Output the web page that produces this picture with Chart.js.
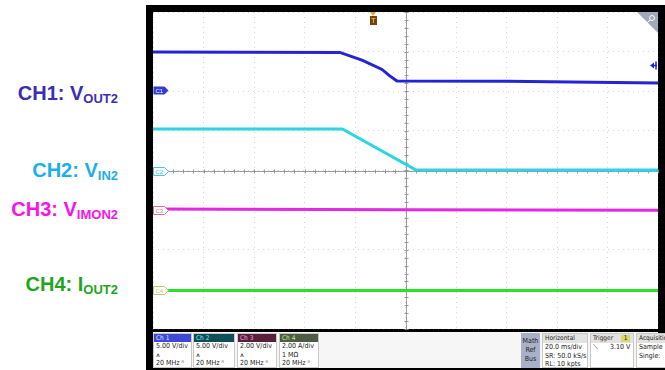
<!DOCTYPE html>
<html>
<head>
<meta charset="utf-8">
<script src="https://cdn.jsdelivr.net/npm/chart.js@4/dist/chart.umd.min.js"></script>
<style>
  html, body { margin: 0; padding: 0; background: #fff; width: 665px; height: 370px; overflow: hidden; }
  .lbl { position: absolute; right: 547px; font: bold 20px "Liberation Sans", Arial, sans-serif; line-height: 20px; white-space: nowrap; }
  .lbl sub { font-size: 13px; vertical-align: -3px; line-height: 0; }
  #scope { position: absolute; left: 146px; top: 5px; width: 519px; height: 365px; background: #000; overflow: hidden; }
  #plot { position: absolute; left: 0; top: 0; }
  #status { position: absolute; left: 7px; top: 327px; width: 505px; height: 36px; background: #f6f6f6;
            font: 7px "Liberation Sans Narrow", "DejaVu Sans Condensed", Arial, sans-serif; color: #222; }
  .box { position: absolute; top: 1px; height: 35px; background: #fff; border: 1px solid #c8c8c8; box-sizing: border-box; overflow: hidden; }
  .hd { height: 8px; line-height: 8px; padding-left: 2px; font-size: 6.5px; }
  .row { height: 8.5px; line-height: 8.5px; padding-left: 2px; white-space: nowrap; }
</style>
</head>
<body>
<div class="lbl" style="top:83px;color:#3b2db4">CH1: V<sub>OUT2</sub></div>
<div class="lbl" style="top:160px;color:#1eaee8">CH2: V<sub>IN2</sub></div>
<div class="lbl" style="top:199px;color:#f514ec">CH3: V<sub>IMON2</sub></div>
<div class="lbl" style="top:274px;color:#22a51e">CH4: I<sub>OUT2</sub></div>

<div id="scope">
  <canvas id="plot" width="519" height="327"></canvas>
  <div id="status">
    <div class="box" style="left:0;width:39px"><div class="hd" style="background:#3d48d6;color:#dfe3ff">Ch 1</div>
      <div class="row">5.00 V/div</div><div class="row">⩚</div><div class="row">20 MHz ⁿ</div></div>
    <div class="box" style="left:40px;width:42px"><div class="hd" style="background:#0f4d58;color:#7fe6f0">Ch 2</div>
      <div class="row">5.00 V/div</div><div class="row">⩚</div><div class="row">20 MHz ⁿ</div></div>
    <div class="box" style="left:84px;width:40px"><div class="hd" style="background:#5a1f39;color:#f0a0e0">Ch 3</div>
      <div class="row">2.00 V/div</div><div class="row">⩚</div><div class="row">20 MHz ⁿ</div></div>
    <div class="box" style="left:126px;width:40px"><div class="hd" style="background:#4e5c44;color:#c8e890">Ch 4</div>
      <div class="row">2.00 A/div</div><div class="row">1 MΩ</div><div class="row">20 MHz ⁿ</div></div>

    <div class="box" style="left:368px;width:19px;background:#a9b1c9;border-color:#a9b1c9;text-align:center;padding-top:3px">
      <div style="line-height:9px">Math<br>Ref<br>Bus</div></div>
    <div class="box" style="left:389px;width:46px"><div class="hd" style="background:#e2e2e2;height:9px">Horizontal</div>
      <div class="row">20.0 ms/div</div><div class="row">SR: 50.0 kS/s</div><div class="row">RL: 10 kpts</div></div>
    <div class="box" style="left:437px;width:44px"><div class="hd" style="background:#e2e2e2;height:9px">Trigger
      <span style="position:absolute;left:30px;top:1px;width:9px;height:7px;background:#d9d86a;text-align:center;line-height:7px">1</span></div>
      <div class="row">⟍&nbsp;&nbsp;&nbsp;&nbsp;&nbsp;&nbsp;3.10 V</div></div>
    <div class="box" style="left:483px;width:30px"><div class="hd" style="background:#e2e2e2;height:9px">Acquisition</div>
      <div class="row">Sample</div><div class="row">Single:</div></div>
  </div>
</div>

<script>
// Graticule: 10 horizontal divisions at 20 ms/div, 8 vertical divisions.
// Trace values are in screen divisions, centre line = 0.
const timeCh1 = [-100, -26, -17, -9.3, -6.5, -3.4, 40, 100];
const ch1Div  = [2.99, 2.98, 2.78, 2.55, 2.40, 2.26, 2.25, 2.21];

const timeCh2 = [-100, -25, 4, 100];
const ch2Div  = [1.05, 1.05, 0.02, 0.01];

const timeCh3 = [-100, 0, 100];
const ch3Div  = [-0.97, -0.99, -1.0];

const timeCh4 = [-100, 100];
const ch4Div  = [-3.03, -3.03];

// Channel ground markers (divisions) and labels
const refNames  = ['C1', 'C2', 'C3', 'C4'];
const refLevels = [2.03, 0, -1.0, -3.02];
const traceColors = ['rgb(36,36,214)', 'rgb(44,212,230)', 'rgb(226,40,226)', 'rgb(40,226,40)'];
const tagStroke   = ['rgb(50,60,220)', 'rgb(60,200,230)', 'rgb(220,110,150)', 'rgb(190,200,110)'];

const triggerTime  = -12.9;  // ms
const triggerLevel = 2.65;   // divisions on CH1 (3.10 V)

const toPts = (xs, ys) => xs.map((x, i) => ({ x, y: ys[i] }));

const scopeFrame = {
  id: 'scopeFrame',
  beforeDraw(chart) {
    const { ctx, chartArea: a } = chart;
    ctx.save();
    ctx.fillStyle = '#000';
    ctx.fillRect(0, 0, chart.width, chart.height);
    ctx.fillStyle = '#fff';
    ctx.fillRect(a.left, a.top, a.right - a.left, a.bottom - a.top);
    ctx.restore();
  },
  beforeDatasetsDraw(chart) {
    // centre crosshair with minor ticks
    const { ctx, chartArea: a, scales: { x, y } } = chart;
    const cx = Math.round(x.getPixelForValue(0)) + 0.5;
    const cy = Math.round(y.getPixelForValue(0)) + 0.5;
    ctx.save();
    ctx.strokeStyle = 'rgba(140,140,140,0.85)';
    ctx.lineWidth = 1;
    ctx.beginPath();
    ctx.moveTo(a.left, cy); ctx.lineTo(a.right, cy);
    ctx.moveTo(cx, a.top); ctx.lineTo(cx, a.bottom);
    for (let t = -100; t <= 100; t += 4) {
      const px = Math.round(x.getPixelForValue(t)) + 0.5;
      ctx.moveTo(px, cy - 2); ctx.lineTo(px, cy + 2);
    }
    for (let d = -4; d <= 4.001; d += 0.2) {
      const py = Math.round(y.getPixelForValue(d)) + 0.5;
      ctx.moveTo(cx - 2, py); ctx.lineTo(cx + 2, py);
    }
    ctx.stroke();
    ctx.restore();
  },
  afterDatasetsDraw(chart) {
    const { ctx, chartArea: a, scales: { x, y } } = chart;
    ctx.save();
    // channel tags at the left edge
    ctx.font = '6px "Liberation Sans", Arial, sans-serif';
    ctx.textBaseline = 'middle';
    refLevels.forEach((lv, i) => {
      const py = Math.round(y.getPixelForValue(lv)) + 0.5;
      const l = a.left + 0.5, w = 11, h = 8;
      ctx.beginPath();
      ctx.moveTo(l, py - h / 2);
      ctx.lineTo(l + w, py - h / 2);
      ctx.lineTo(l + w + 4, py);
      ctx.lineTo(l + w, py + h / 2);
      ctx.lineTo(l, py + h / 2);
      ctx.closePath();
      if (i === 0) {
        ctx.fillStyle = tagStroke[0]; ctx.fill();
        ctx.fillStyle = '#fff';
      } else {
        ctx.fillStyle = '#fff'; ctx.fill();
        ctx.strokeStyle = tagStroke[i]; ctx.lineWidth = 1; ctx.stroke();
        ctx.fillStyle = tagStroke[i];
      }
      ctx.fillText(refNames[i], l + 2, py + 0.5);
    });

    // trigger position marker at the top
    const tx = Math.round(x.getPixelForValue(triggerTime));
    ctx.fillStyle = '#e8a020';
    ctx.beginPath();
    ctx.moveTo(tx - 3, a.top); ctx.lineTo(tx + 3, a.top); ctx.lineTo(tx, a.top + 4); ctx.closePath();
    ctx.fill();
    ctx.fillStyle = '#6e4410';
    ctx.fillRect(tx - 3, a.top + 4, 7, 9);
    ctx.fillStyle = '#f0b040';
    ctx.font = 'bold 7px "Liberation Sans", Arial, sans-serif';
    ctx.textAlign = 'center';
    ctx.fillText('T', tx + 0.5, a.top + 9);

    // trigger level arrow on the right edge
    const ty = Math.round(y.getPixelForValue(triggerLevel)) + 0.5;
    ctx.strokeStyle = traceColors[0];
    ctx.fillStyle = traceColors[0];
    ctx.lineWidth = 1.5;
    ctx.beginPath(); ctx.moveTo(a.right - 6, ty); ctx.lineTo(a.right - 1, ty); ctx.stroke();
    ctx.beginPath(); ctx.moveTo(a.right - 8, ty); ctx.lineTo(a.right - 4, ty - 3); ctx.lineTo(a.right - 4, ty + 3); ctx.closePath(); ctx.fill();
    ctx.beginPath(); ctx.moveTo(a.right - 2, ty - 4); ctx.lineTo(a.right - 2, ty + 4); ctx.stroke();

    // zoom corner
    ctx.fillStyle = '#a2a9b8';
    ctx.beginPath();
    ctx.moveTo(a.right - 21, a.top); ctx.lineTo(a.right, a.top); ctx.lineTo(a.right, a.top + 21); ctx.closePath();
    ctx.fill();
    ctx.strokeStyle = '#fff'; ctx.lineWidth = 1;
    ctx.beginPath(); ctx.arc(a.right - 6, a.top + 6, 2.5, 0, Math.PI * 2); ctx.stroke();
    ctx.beginPath(); ctx.moveTo(a.right - 8, a.top + 8); ctx.lineTo(a.right - 11, a.top + 11); ctx.stroke();
    ctx.restore();
  }
};

const mkSet = (xs, ys, i) => ({
  data: toPts(xs, ys),
  borderColor: traceColors[i],
  borderWidth: 3,
  pointRadius: 0,
  tension: 0,
  fill: false
});

new Chart(document.getElementById('plot'), {
  type: 'line',
  data: {
    datasets: [
      mkSet(timeCh4, ch4Div, 3),
      mkSet(timeCh3, ch3Div, 2),
      mkSet(timeCh2, ch2Div, 1),
      mkSet(timeCh1, ch1Div, 0)
    ]
  },
  options: {
    responsive: false,
    animation: false,
    devicePixelRatio: 1,
    layout: { padding: { left: 7, top: 7, right: 7, bottom: 3 } },
    plugins: { legend: { display: false }, tooltip: { enabled: false } },
    scales: {
      x: {
        type: 'linear', min: -100, max: 100,
        ticks: { display: false, stepSize: 20 },
        grid: { color: 'rgba(120,120,120,0.3)', drawTicks: false, lineWidth: 1 },
        border: { display: false, dash: [1, 4] }
      },
      y: {
        type: 'linear', min: -4, max: 4,
        ticks: { display: false, stepSize: 1 },
        grid: { color: 'rgba(120,120,120,0.3)', drawTicks: false, lineWidth: 1 },
        border: { display: false, dash: [1, 4] }
      }
    }
  },
  plugins: [scopeFrame]
});
</script>
</body>
</html>
